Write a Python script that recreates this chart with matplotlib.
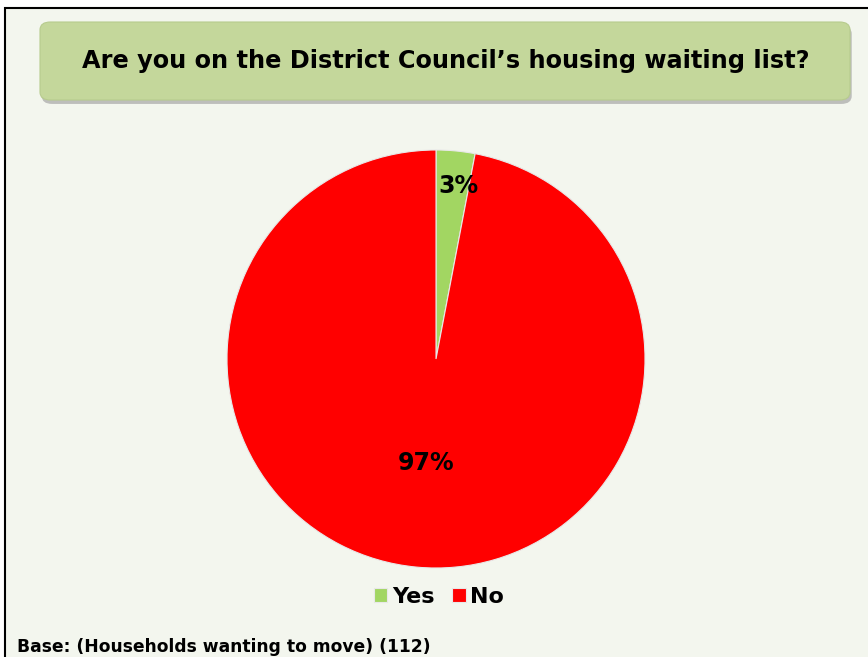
import matplotlib.pyplot as plt
from matplotlib.patches import FancyBboxPatch, Rectangle
import numpy as np

# data
labels = ['Yes', 'No']
values = [3, 97]
colors = ['#A2D662', '#FF0000']
label_dist = [0.83, 0.5]

W, H = 868, 657
fig = plt.figure(figsize=(W / 100, H / 100), dpi=100)
fig.patch.set_facecolor('white')

def px(x, y):
    return x / W, 1 - y / H

# chart area with border
x0, y0 = px(5, 8)
fig.patches.append(Rectangle((x0, -0.1), 1.2, y0 + 0.1, transform=fig.transFigure,
                             facecolor='#F3F6EE', edgecolor='black', linewidth=1.5, zorder=-2))

# title box + shadow
bx, by = px(40, 100)
bw, bh = (850 - 40) / W, (100 - 22) / H
fig.patches.append(FancyBboxPatch((bx + 0.002, by - 0.006), bw, bh, transform=fig.transFigure,
                                  boxstyle='round,pad=0,rounding_size=0.012',
                                  facecolor='#9A9A9A', edgecolor='none', alpha=0.6, zorder=-1))
fig.patches.append(FancyBboxPatch((bx, by), bw, bh, transform=fig.transFigure,
                                  boxstyle='round,pad=0,rounding_size=0.012',
                                  facecolor='#C4D79B', edgecolor='#B7CB8E', linewidth=0.8, zorder=-1))
tx, ty = px(446, 61)
fig.text(tx, ty, 'Are you on the District Council\u2019s housing waiting list?',
         ha='center', va='center', fontsize=17.3, fontweight='bold', zorder=3)

# pie
ax = fig.add_axes([227 / W, (H - 568) / H, 418 / W, 418 / H])
ax.set_zorder(5)
wedges, _ = ax.pie(values, colors=colors, startangle=90, counterclock=False,
                   wedgeprops=dict(edgecolor='#E8E8E8', linewidth=0.8))
for w, v, d in zip(wedges, values, label_dist):
    ang = np.deg2rad((w.theta1 + w.theta2) / 2)
    ax.text(d * np.cos(ang) + (0.03 if v < 50 else 0), d * np.sin(ang), f'{v}%',
            ha='center', va='center', fontsize=17, fontweight='bold')
ax.set_xlim(-1, 1)
ax.set_ylim(-1, 1)
ax.set_aspect('equal')
ax.axis('off')

lx, ly = px(439, 597)
fig.legend(wedges, labels, loc='center', bbox_to_anchor=(lx, ly), ncol=2, frameon=False,
           prop=dict(size=16, weight='bold'), handlelength=0.6, handleheight=0.6,
           handletextpad=0.2, columnspacing=0.8)

fx, fy = px(17, 647)
fig.text(fx, fy, 'Base: (Households wanting to move) (112)', ha='left', va='center',
         fontsize=12.3, fontweight='bold')

fig.savefig('out.png', dpi=100)
